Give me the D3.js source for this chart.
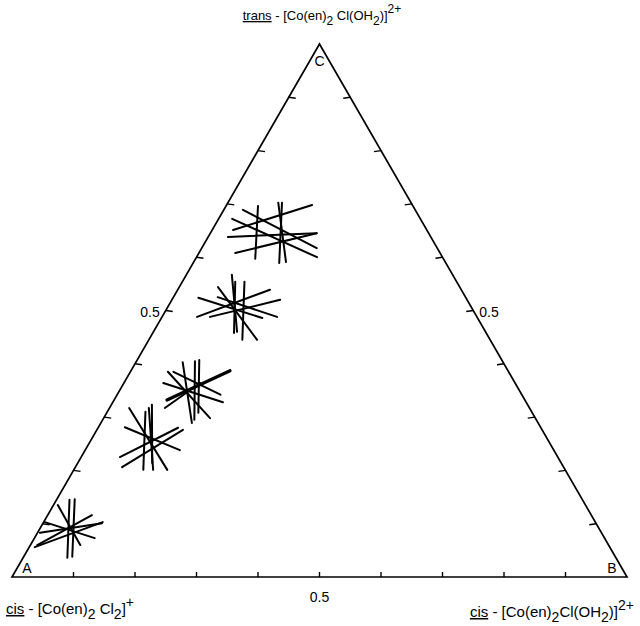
<!DOCTYPE html>
<html>
<head>
<meta charset="utf-8">
<script src="https://cdn.jsdelivr.net/npm/d3@7"></script>
<style>
  body { margin: 0; background: #fff; }
  svg { display: block; font-family: "Liberation Sans", Arial, sans-serif; }
</style>
</head>
<body>
<svg id="chart"></svg>
<script>
const width = 640;
const height = 626;
const tri = { left: 12, right: 627, bottom: 577, top: 44 };

// ternary coordinates are (b, c); a = 1 - b - c
const vertexNames = ['A', 'B', 'C'];
const tickValues = [0.1, 0.2, 0.3, 0.4, 0.5, 0.6, 0.7, 0.8, 0.9];
const tickLabels = ['0.5'];
const labelledTick = 0.5;

// each segment: [b1, c1, b2, c2]
const cluster1 = [
    [0.021, 0.145, 0.072, 0.036],
    [0.029, 0.146, 0.079, 0.038],
    [0.007, 0.135, 0.081, 0.060],
    [0.002, 0.103, 0.098, 0.073],
    [0.009, 0.056, 0.096, 0.103],
    [0.011, 0.060, 0.072, 0.116],
    [0.004, 0.083, 0.096, 0.101]
];
const cluster2 = [
    [0.062, 0.310, 0.113, 0.201],
    [0.064, 0.317, 0.129, 0.201],
    [0.066, 0.323, 0.121, 0.214],
    [0.032, 0.317, 0.152, 0.201],
    [0.043, 0.281, 0.154, 0.238],
    [0.063, 0.225, 0.130, 0.280],
    [0.076, 0.206, 0.140, 0.276]
];
const cluster3 = [
    [0.064, 0.364, 0.179, 0.328],
    [0.061, 0.385, 0.173, 0.298],
    [0.070, 0.385, 0.168, 0.342],
    [0.090, 0.317, 0.124, 0.364],
    [0.076, 0.403, 0.148, 0.289],
    [0.095, 0.405, 0.149, 0.295],
    [0.101, 0.407, 0.149, 0.308]
];
const cluster3Bold = [
    [0.086, 0.332, 0.161, 0.387]
];
const cluster4 = [
    [0.074, 0.567, 0.136, 0.460],
    [0.086, 0.554, 0.132, 0.458],
    [0.101, 0.554, 0.152, 0.445],
    [0.063, 0.544, 0.176, 0.445],
    [0.041, 0.524, 0.164, 0.486],
    [0.057, 0.488, 0.150, 0.539],
    [0.078, 0.488, 0.176, 0.520],
    [0.072, 0.525, 0.187, 0.488]
];
const cluster5 = [
    [0.031, 0.689, 0.187, 0.617],
    [0.034, 0.651, 0.139, 0.698],
    [0.032, 0.638, 0.173, 0.645],
    [0.059, 0.608, 0.173, 0.645],
    [0.052, 0.696, 0.097, 0.597],
    [0.082, 0.702, 0.150, 0.591],
    [0.088, 0.702, 0.140, 0.589],
    [0.022, 0.672, 0.196, 0.600]
];

const topLabel = [
    { t: 'trans', u: true }, { t: ' - [Co(en)' }, { t: '2', sub: true },
    { t: ' Cl(OH' }, { t: '2', sub: true }, { t: ')]' }, { t: '2+', sup: true }
];
const leftLabel = [
    { t: 'cis', u: true }, { t: ' - [Co(en)' }, { t: '2', sub: true },
    { t: ' Cl' }, { t: '2', sub: true }, { t: ']' }, { t: '+', sup: true }
];
const rightLabel = [
    { t: 'cis', u: true }, { t: ' - [Co(en)' }, { t: '2', sub: true },
    { t: 'Cl(OH' }, { t: '2', sub: true }, { t: ')]' }, { t: '2+', sup: true }
];

const xScale = d3.scaleLinear().domain([0, 1]).range([tri.left, tri.right]);
const yScale = d3.scaleLinear().domain([0, 1]).range([tri.bottom, tri.top]);
const project = (b, c) => [xScale(b + c / 2), yScale(c)];

const svg = d3.select('#chart')
    .attr('width', width)
    .attr('height', height)
    .attr('viewBox', `0 0 ${width} ${height}`);

// triangle outline
const corners = [project(0, 0), project(1, 0), project(0, 1)];
svg.append('path')
    .attr('d', d3.line()(corners) + 'Z')
    .attr('fill', 'none')
    .attr('stroke', '#000')
    .attr('stroke-width', 1.7)
    .attr('stroke-linejoin', 'miter');

// ticks on the three sides
const ticks = svg.append('g').attr('stroke', '#000').attr('stroke-width', 1.4);
tickValues.forEach(t => {
    const pb = project(t, 0);
    ticks.append('line').attr('x1', pb[0]).attr('y1', pb[1]).attr('x2', pb[0]).attr('y2', pb[1] - 5);
    const pl = project(0, t);
    ticks.append('line').attr('x1', pl[0]).attr('y1', pl[1]).attr('x2', pl[0] + 7).attr('y2', pl[1] + 1);
    const pr = project(1 - t, t);
    ticks.append('line').attr('x1', pr[0]).attr('y1', pr[1]).attr('x2', pr[0] - 7).attr('y2', pr[1] + 1);
});

// 0.5 labels
const lbl = svg.append('g').attr('font-size', 14).attr('fill', '#000');
const pB = project(labelledTick, 0);
lbl.append('text').attr('x', pB[0]).attr('y', pB[1] + 25).attr('text-anchor', 'middle').text(tickLabels[0]);
const pL = project(0, labelledTick);
lbl.append('text').attr('x', pL[0] - 6).attr('y', pL[1] + 6).attr('text-anchor', 'end').text(tickLabels[0]);
const pR = project(1 - labelledTick, labelledTick);
lbl.append('text').attr('x', pR[0] + 6).attr('y', pR[1] + 6).attr('text-anchor', 'start').text(tickLabels[0]);

// vertex letters
const vPos = [project(0, 0), project(1, 0), project(0, 1)];
const vOff = [[15, -4], [-15, -4], [0, 22]];
vertexNames.forEach((n, i) => {
    svg.append('text')
        .attr('x', vPos[i][0] + vOff[i][0])
        .attr('y', vPos[i][1] + vOff[i][1])
        .attr('text-anchor', 'middle')
        .attr('font-size', 14)
        .text(n);
});

// data clusters
const dataG = svg.append('g')
    .attr('stroke', '#000')
    .attr('stroke-linecap', 'round');

function drawSegments(segs, w) {
    dataG.append('g').selectAll('line')
        .data(segs)
        .join('line')
        .attr('x1', d => project(d[0], d[1])[0])
        .attr('y1', d => project(d[0], d[1])[1])
        .attr('x2', d => project(d[2], d[3])[0])
        .attr('y2', d => project(d[2], d[3])[1])
        .attr('stroke-width', w);
}
[cluster1, cluster2, cluster3, cluster4, cluster5].forEach(c => drawSegments(c, 2));
drawSegments(cluster3Bold, 3.2);

// chemical labels
function richText(parts, x, y, anchor, size) {
    const t = svg.append('text')
        .attr('x', x).attr('y', y)
        .attr('text-anchor', anchor)
        .attr('font-size', size)
        .attr('fill', '#000');
    let shift = 0;
    parts.forEach(p => {
        const target = p.sub ? 5 : p.sup ? -7 : 0;
        const span = t.append('tspan')
            .attr('dy', target - shift)
            .attr('font-size', (p.sub || p.sup) ? size - 1 : size)
            .text(p.t);
        if (p.u) span.attr('text-decoration', 'underline');
        shift = target;
    });
}
richText(topLabel, 322, 20, 'middle', 13);
richText(leftLabel, 6, 614, 'start', 15);
richText(rightLabel, 634, 617, 'end', 15);
</script>
</body>
</html>
